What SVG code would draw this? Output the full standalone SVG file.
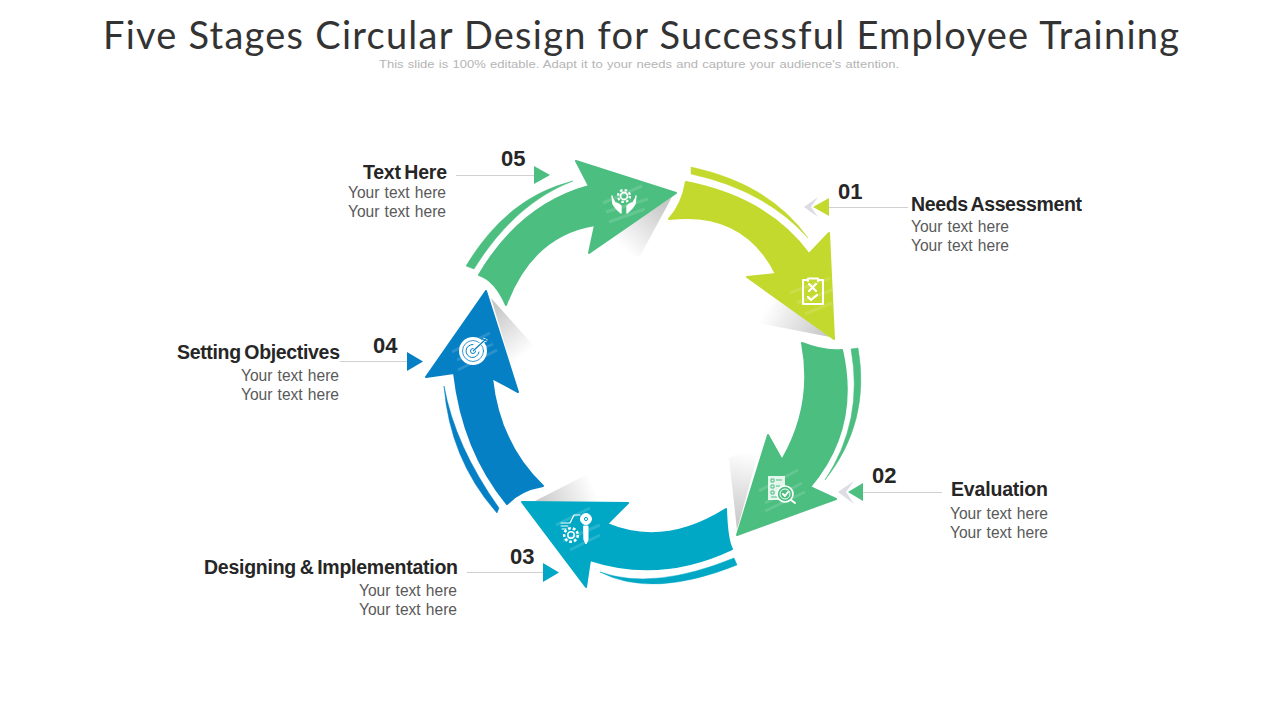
<svg xmlns="http://www.w3.org/2000/svg" width="1280" height="720" viewBox="0 0 1280 720">
<style>
text{font-family:"Liberation Sans",Arial,sans-serif}
.title{font-family:Lato,"Liberation Sans",sans-serif;font-size:38px;font-weight:400;fill:#333}
.sub{font-size:11.800px;fill:#b4b4b4;word-spacing:.6px}
.h{font-size:19.500px;font-weight:700;fill:#262626;word-spacing:-1.500px}
.b{font-size:15.800px;fill:#595959;word-spacing:.8px}
.n{font-size:22px;font-weight:700;fill:#262626}
.lead{stroke:#d0d0d0;stroke-width:1;fill:none}
.lime{fill:#c3d92d;stroke:#c3d92d}
.green{fill:#4bbe80;stroke:#4bbe80}
.teal{fill:#00a8c5;stroke:#00a8c5}
.blue{fill:#0680c4;stroke:#0680c4}
.arrow{stroke-width:2;stroke-linejoin:round}
.stripe{stroke-width:.5;stroke-linejoin:round}
.glow{stroke:#fff;stroke-opacity:.14;stroke-width:3;fill:none}
.ic{fill:none;stroke:#fff;stroke-width:2;stroke-linecap:round;stroke-linejoin:round}
.ghost{fill:#dcdde4}
</style>
<defs>
<linearGradient id="s5" gradientUnits="userSpaceOnUse" x1="665" y1="205" x2="625" y2="250"><stop offset="0" stop-color="#c8c8c8"/><stop offset="1" stop-color="#fff"/></linearGradient>
<linearGradient id="s1" gradientUnits="userSpaceOnUse" x1="825" y1="335" x2="768" y2="305"><stop offset="0" stop-color="#c8c8c8"/><stop offset="1" stop-color="#fff"/></linearGradient>
<linearGradient id="s2" gradientUnits="userSpaceOnUse" x1="738" y1="525" x2="748" y2="452"><stop offset="0" stop-color="#c8c8c8"/><stop offset="1" stop-color="#fff"/></linearGradient>
<linearGradient id="s3" gradientUnits="userSpaceOnUse" x1="535" y1="500" x2="590" y2="478"><stop offset="0" stop-color="#c8c8c8"/><stop offset="1" stop-color="#fff"/></linearGradient>
<linearGradient id="s4" gradientUnits="userSpaceOnUse" x1="495" y1="308" x2="530" y2="350"><stop offset="0" stop-color="#c8c8c8"/><stop offset="1" stop-color="#fff"/></linearGradient>
</defs>
<rect width="1280" height="720" fill="#fff"/>
<text class="title" x="103" y="49" textLength="1076" lengthAdjust="spacing">Five Stages Circular Design for Successful Employee Training</text>
<text class="sub" x="379" y="68" textLength="520" lengthAdjust="spacingAndGlyphs">This slide is 100% editable. Adapt it to your needs and capture your audience's attention.</text>

<g id="connectors">
<path class="lead" d="M829 207.500H908"/>
<path class="lead" d="M863 492.500H942"/>
<path class="lead" d="M467 572.500H543"/>
<path class="lead" d="M340 361.500H407"/>
<path class="lead" d="M456 175.500H534"/>
<polygon class="ghost" points="818,197 804,207 818,217 811,207"/>
<polygon class="ghost" points="854,481 838,492 854,504 846,492"/>
<polygon fill="#c3d92d" points="829,198 813,207 829,216"/>
<polygon fill="#4bbe80" points="863,483 848,492 863,501"/>
<polygon fill="#00a8c5" points="543,563 559,572.500 543,582"/>
<polygon fill="#0680c4" points="407,352 423,361.500 407,371"/>
<polygon fill="#4bbe80" points="534,166 550,175 534,184"/>
</g>

<g id="node-05">
<polygon fill="url(#s5)" points="672,197 640,256 600,254 590,252"/>
<path class="green arrow" d="M479 275Q520 205 589 186L576 161L676 193L589 253L595 225Q532 235 506 305Q495 280 479 275Z"/>
<path class="green stripe" d="M466 266Q507 197 573 181Q515 203 474 269Z"/>
<path class="glow" d="M603 203L642 186M606 212L648 199M609 222L645 209"/>
<g class="ic">
<circle cx="624" cy="196" r="3.500" stroke-width="1.800"/><circle cx="624" cy="196" r="6" stroke-dasharray="2.500 2.200" stroke-width="2.200" stroke-linecap="butt"/>
<path d="M612 196L613 204Q615 208 621 213V206Q619 204 616 203M636 196L635 204Q633 208 627 213V206Q629 204 632 203" fill="#fff" stroke-width="1.400"/>
</g>
<text class="h" x="363" y="179" textLength="84" lengthAdjust="spacing">Text Here</text>
<text class="b" x="348" y="198" textLength="98" lengthAdjust="spacingAndGlyphs">Your text here</text>
<text class="b" x="348" y="217" textLength="98" lengthAdjust="spacingAndGlyphs">Your text here</text>
<text class="n" x="501" y="166">05</text>
</g>

<g id="node-01">
<polygon fill="url(#s1)" points="830,337 758,323 770,293"/>
<path class="lime arrow" d="M686 182Q768 198 809 254L829 233L834 339L747 277L776 274Q744 210 669 219Q682 205 686 182Z"/>
<path class="lime stripe" d="M691 167Q770 184 808 238Q765 190 691 174Z"/>
<path class="glow" d="M790 293L830 278M797 303L832 290M805 314L832 303"/>
<g class="ic">
<path d="M808 280H803V304H823V280H818M808 281V278.500H818V281"/>
<path d="M809 284L816 291M816 284L809 291M808 297L811 300L817 295" stroke-width="2.200"/>
</g>
<text class="h" x="911" y="211" textLength="171" lengthAdjust="spacing">Needs Assessment</text>
<text class="b" x="911" y="232" textLength="98" lengthAdjust="spacingAndGlyphs">Your text here</text>
<text class="b" x="911" y="251" textLength="98" lengthAdjust="spacingAndGlyphs">Your text here</text>
<text class="n" x="838" y="199">01</text>
</g>

<g id="node-02">
<polygon fill="url(#s2)" points="737,530 729,458 762,440"/>
<path class="green arrow" d="M802 343Q825 352 842 350Q860 428 810 487L836 499L737 535L768 435L782 460Q814 405 802 343Z"/>
<path class="green stripe" d="M851 349L858 348Q871 422 825 480Q864 421 851 349Z"/>
<path class="glow" d="M759 491L798 470M765 503L802 483M765 511L805 492"/>
<path d="M768 476H785V488L781 500H768Z" fill="#fff" fill-opacity=".85"/>
<g fill="none" stroke="#4bbe80" stroke-width="1">
<path d="M771 479H774V482H771ZM771 485H774V488H771ZM771 491H774V494H771ZM776 480H782M776 486H780M771 497H778"/>
</g>
<circle cx="785" cy="494" r="8" fill="#4bbe80" stroke="#fff" stroke-width="1.600"/>
<circle cx="785" cy="494" r="5" fill="none" stroke="#fff" stroke-width="1"/>
<path class="ic" d="M783 494L785 496L788 492" stroke-width="1.200"/>
<path class="ic" d="M791 500L795 503" stroke-width="1.400"/>
<text class="h" x="951" y="496" textLength="97" lengthAdjust="spacing">Evaluation</text>
<text class="b" x="950" y="519" textLength="98" lengthAdjust="spacingAndGlyphs">Your text here</text>
<text class="b" x="950" y="538" textLength="98" lengthAdjust="spacingAndGlyphs">Your text here</text>
<text class="n" x="872" y="483">02</text>
</g>

<g id="node-03">
<polygon fill="url(#s3)" points="533,502 590,473 610,502"/>
<path class="teal arrow" d="M726 509Q664 548 607 524L628 503L522 502L586 587L590 560Q660 583 732 549Q727 540 726 509Z"/>
<path class="teal stripe" d="M734 558L737 565Q652 599 600 572Q653 591 734 558Z"/>
<path class="glow" d="M556 525L590 508M563 541L600 525M570 550L600 535"/>
<g class="ic">
<circle cx="571" cy="535" r="3.200" stroke-width="1.500"/><circle cx="571" cy="535" r="6.800" stroke-dasharray="2.800 2" stroke-width="2.600" stroke-linecap="butt"/>
<path d="M561 523H570L574 515H580" stroke-width="1.200"/>
<path d="M561 526H568M562 529H566" stroke-width="1"/>
<circle cx="586" cy="519" r="5.500" fill="#fff" stroke-width="1"/>
<path d="M584 526H588V540L586 544L584 540Z" fill="#fff" stroke-width="1"/>
</g>
<circle cx="586" cy="519" r="1.600" fill="none" stroke="#00a8c5"/>
<text class="h" x="204" y="574" textLength="254" lengthAdjust="spacing">Designing &amp; Implementation</text>
<text class="b" x="359" y="596" textLength="98" lengthAdjust="spacingAndGlyphs">Your text here</text>
<text class="b" x="359" y="615" textLength="98" lengthAdjust="spacingAndGlyphs">Your text here</text>
<text class="n" x="510" y="564">03</text>
</g>

<g id="node-04">
<polygon fill="url(#s4)" points="491,298 533,345 518,388"/>
<path class="blue arrow" d="M454 373Q463 451 507 504Q520 490 543 486Q499 444 492 378L518 392L486 291L426 377Z"/>
<path class="blue stripe" d="M444 386Q450 460 497 513L499 508Q455 446 444 386Z"/>
<path class="glow" d="M452 352L490 333M457 360L493 344M458 370L497 350"/>
<circle cx="473" cy="351" r="14" fill="#fff"/>
<g fill="none" stroke="#0680c4" stroke-linecap="round">
<circle cx="473" cy="351" r="10.500" stroke-width=".8"/>
<path d="M479 352A6.500 6.500 0 1 1 473 344.500" stroke-width="1"/>
<circle cx="473" cy="351" r="2.500" stroke-width="1"/>
</g>
<path d="M473 351L486 339M483 339L487 341" fill="none" stroke="#fff" stroke-width="3"/>
<path d="M473 351L486 339M483 339L487 341" fill="none" stroke="#0680c4" stroke-width="1.200"/>
<text class="h" x="177" y="359" textLength="163" lengthAdjust="spacing">Setting Objectives</text>
<text class="b" x="241" y="381" textLength="98" lengthAdjust="spacingAndGlyphs">Your text here</text>
<text class="b" x="241" y="400" textLength="98" lengthAdjust="spacingAndGlyphs">Your text here</text>
<text class="n" x="373" y="353">04</text>
</g>
</svg>
